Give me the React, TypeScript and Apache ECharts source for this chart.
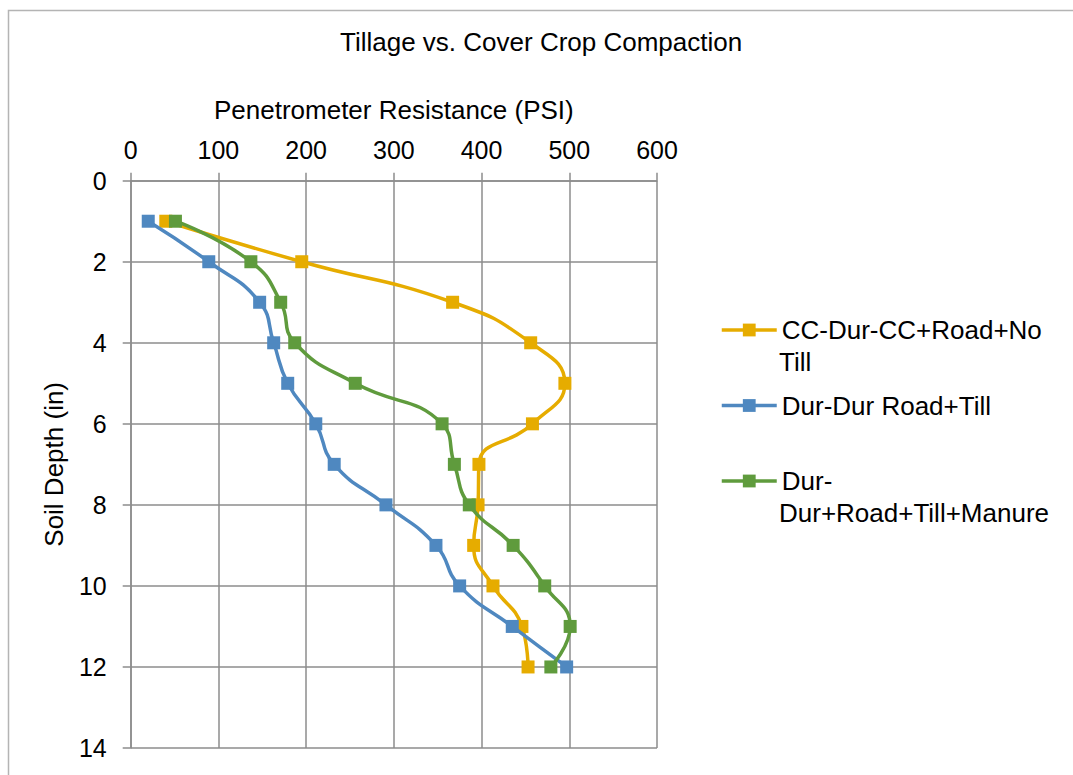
import React, { useEffect, useRef } from "react";
import * as echarts from "echarts";

// Soil depth (in) at each reading
const depths = [1, 2, 3, 4, 5, 6, 7, 8, 9, 10, 11, 12];

// Penetrometer resistance (PSI) per treatment
const ccRoadNoTill = [40, 195, 367, 456, 495, 458, 397, 396, 391, 413, 446, 453];
const durRoadTill = [20, 89, 147, 163, 179, 211, 232, 291, 348, 375, 435, 497];
const durRoadTillManure = [51, 137, 171, 187, 256, 355, 369, 386, 436, 472, 501, 479];

const seriesNames = [
  "CC-Dur-CC+Road+No Till",
  "Dur-Dur Road+Till",
  "Dur-Dur+Road+Till+Manure",
];
// first legend line / continuation line for each entry
const legendFirstLines = ["CC-Dur-CC+Road+No", "Dur-Dur Road+Till", "Dur-"];
const legendSecondLines = ["Till", "", "Dur+Road+Till+Manure"];

const colors = ["#E6AC00", "#4F88C0", "#5F9B3D"];

const FONT = "'Liberation Sans', Arial, sans-serif";
const GRID_COLOR = "#8C8C8C";

export default function App() {
  const ref = useRef<HTMLDivElement>(null);

  useEffect(() => {
    document.body.style.margin = "0";
    if (!ref.current) return;
    const chart = echarts.init(ref.current, undefined, { renderer: "svg" });

    const values = [ccRoadNoTill, durRoadTill, durRoadTillManure];

    const series = values.map((vals, i) => ({
      name: seriesNames[i],
      type: "line",
      smooth: 0.5,
      data: vals.map((v, k) => [v, depths[k]]),
      symbol: "rect",
      symbolSize: 13,
      itemStyle: { color: colors[i] },
      lineStyle: { color: colors[i], width: 3.5 },
      z: 2 + i,
    }));

    const legendTop = 315;
    const legendPitch = 75.5;
    const continuation = legendSecondLines
      .map((t, i) =>
        t
          ? {
              type: "text",
              left: 779,
              top: legendTop + i * legendPitch + 34,
              style: {
                text: t,
                font: `26px ${FONT}`,
                fill: "#000",
                textVerticalAlign: "top",
              },
            }
          : null
      )
      .filter(Boolean);

    chart.setOption({
      animation: false,
      backgroundColor: "#fff",
      textStyle: { fontFamily: FONT },
      title: {
        text: "Tillage vs. Cover Crop Compaction",
        left: 340,
        top: 29,
        padding: 0,
        textStyle: { fontSize: 26, fontWeight: "normal", color: "#000", fontFamily: FONT },
      },
      grid: { left: 130.7, right: 416, top: 180.7, bottom: 27 },
      legend: {
        orient: "vertical",
        left: 720,
        top: legendTop,
        padding: 0,
        itemWidth: 55,
        itemHeight: 16,
        itemGap: legendPitch - 30,
        data: seriesNames,
        lineStyle: { width: 3.5 },
        formatter: (name: string) => legendFirstLines[seriesNames.indexOf(name)],
        textStyle: { fontSize: 26, color: "#000", lineHeight: 30, fontFamily: FONT },
      },
      xAxis: {
        type: "value",
        position: "top",
        min: 0,
        max: 600,
        interval: 100,
        name: "Penetrometer Resistance (PSI)",
        nameLocation: "middle",
        nameGap: 58,
        nameTextStyle: { fontSize: 26, color: "#000", fontFamily: FONT },
        axisLine: { show: true, lineStyle: { color: GRID_COLOR, width: 1.5 } },
        axisTick: { show: true, length: 8, lineStyle: { color: GRID_COLOR, width: 1.5 } },
        axisLabel: { fontSize: 25, color: "#000", margin: 18, fontFamily: FONT },
        splitLine: { show: true, lineStyle: { color: GRID_COLOR, width: 1.5 } },
      },
      yAxis: {
        type: "value",
        inverse: true,
        min: 0,
        max: 14,
        interval: 2,
        name: "Soil Depth (in)",
        nameLocation: "middle",
        nameGap: 64,
        nameTextStyle: { fontSize: 26, color: "#000", fontFamily: FONT },
        axisLine: { show: true, lineStyle: { color: GRID_COLOR, width: 1.5 } },
        axisTick: { show: true, length: 8, lineStyle: { color: GRID_COLOR, width: 1.5 } },
        axisLabel: { fontSize: 25, color: "#000", margin: 24, fontFamily: FONT },
        splitLine: { show: true, lineStyle: { color: GRID_COLOR, width: 1.5 } },
      },
      graphic: [
        {
          type: "rect",
          left: 6,
          top: 8,
          shape: { x: 0, y: 0, width: 1200, height: 900 },
          style: { fill: "none", stroke: "#B4B4B4", lineWidth: 1.5 },
          silent: true,
          z: -1,
        },
        ...continuation,
      ],
      series,
    });

    return () => chart.dispose();
  }, []);

  return (
    <div
      ref={ref}
      style={{ position: "fixed", left: 0, top: 0, width: 1073, height: 775 }}
    />
  );
}
